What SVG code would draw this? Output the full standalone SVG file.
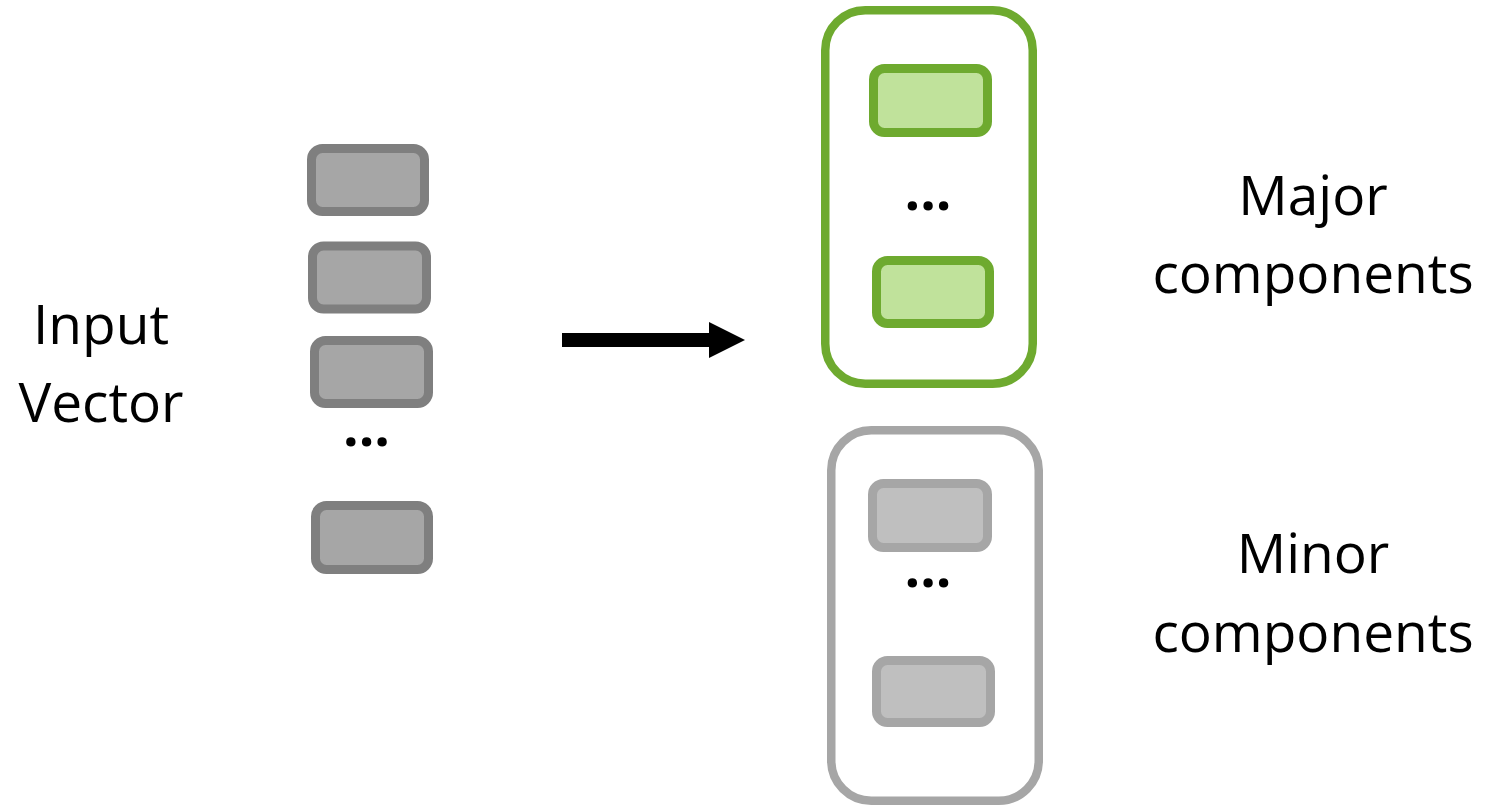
<svg xmlns="http://www.w3.org/2000/svg" width="1487" height="808" viewBox="0 0 1487 808">
  <style>
    .label { font-family: "Open Sans", "Liberation Sans", sans-serif; font-size: 55px; fill: #000; text-anchor: middle; }
    .dots { font-family: "Open Sans", "Liberation Sans", sans-serif; font-weight: bold; font-size: 55px; fill: #000; text-anchor: middle; }
    .cell-in { fill: #a6a6a6; stroke: #7f7f7f; stroke-width: 9; }
    .cell-major { fill: #c0e29b; stroke: #6eaa2f; stroke-width: 9; }
    .cell-minor { fill: #bfbfbf; stroke: #a6a6a6; stroke-width: 9; }
    .group-major { fill: #fff; stroke: #6eaa2f; stroke-width: 8.5; }
    .group-minor { fill: #fff; stroke: #a6a6a6; stroke-width: 8.5; }
  </style>
  <rect width="1487" height="808" fill="#fff"/>

  <!-- input vector -->
  <g id="input-label">
    <text class="label" x="101" y="344">Input</text>
    <text class="label" x="101" y="422">Vector</text>
  </g>
  <g id="input-vector">
    <rect class="cell-in" x="311.5" y="148.5" width="113" height="63" rx="11"/>
    <rect class="cell-in" x="312.5" y="246" width="114" height="63" rx="11"/>
    <rect class="cell-in" x="314.5" y="340.5" width="114" height="63" rx="11"/>
    <text class="dots" x="366.5" y="446">...</text>
    <rect class="cell-in" x="315.5" y="505.5" width="113" height="64" rx="11"/>
  </g>

  <!-- arrow -->
  <g id="connectors">
    <rect x="562" y="333" width="148" height="14" fill="#000"/>
    <polygon points="709,322 745,340 709,358" fill="#000"/>
  </g>

  <!-- major components -->
  <g id="major">
    <rect class="group-major" x="825.25" y="10.25" width="207.5" height="373.5" rx="40"/>
    <rect class="cell-major" x="873.5" y="68.5" width="114" height="64" rx="11"/>
    <text class="dots" x="928" y="210">...</text>
    <rect class="cell-major" x="876.5" y="260.5" width="113" height="63" rx="11"/>
  </g>
  <g id="major-label">
    <text class="label" x="1313" y="215">Major</text>
    <text class="label" x="1313" y="293">components</text>
  </g>

  <!-- minor components -->
  <g id="minor">
    <rect class="group-minor" x="831.25" y="430.25" width="207.5" height="370.5" rx="40"/>
    <rect class="cell-minor" x="872.5" y="483.5" width="115" height="64" rx="11"/>
    <text class="dots" x="928" y="587">...</text>
    <rect class="cell-minor" x="876.5" y="660.5" width="114" height="62" rx="11"/>
  </g>
  <g id="minor-label">
    <text class="label" x="1313" y="573">Minor</text>
    <text class="label" x="1313" y="652">components</text>
  </g>
</svg>
